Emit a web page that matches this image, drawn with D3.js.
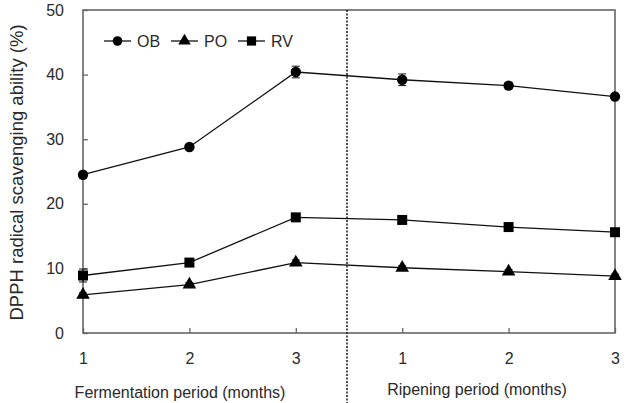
<!DOCTYPE html>
<html><head><meta charset="utf-8">
<script src="https://cdn.jsdelivr.net/npm/d3@7"></script>
<style>body{margin:0;background:#fff}svg{display:block}text{font-family:"Liberation Sans",Arial,sans-serif;fill:#2a2a2a}</style>
</head><body><svg id="c" width="627" height="403"></svg>
<script>
const categories = ["F1","F2","F3","R1","R2","R3"];
const tickLabels = ["1","2","3","1","2","3"];
const seriesNames = ["OB","PO","RV"];
const OB = [24.5, 28.8, 40.4, 39.2, 38.3, 36.6];
const PO = [5.9, 7.5, 10.9, 10.1, 9.5, 8.8];
const RV = [8.9, 10.9, 17.9, 17.5, 16.4, 15.6];
const OBerr = [0.5, 0.3, 0.9, 0.9, 0.5, 0.4];
const POerr = [0.3, 0.3, 0.4, 0.3, 0.3, 0.3];
const RVerr = [1.0, 0.3, 0.4, 0.3, 0.3, 0.3];
const yTicks = [0,10,20,30,40,50];

const svg = d3.select("#c");
const L=83, R=615, T=10, B=333;
const x = d3.scalePoint().domain(categories).range([L,R]);
const y = d3.scaleLinear().domain([0,50]).range([B,T]);
const axisCol="#666";

// frame
svg.append("rect").attr("x",L).attr("y",T).attr("width",R-L).attr("height",B-T)
  .attr("fill","none").attr("stroke",axisCol).attr("stroke-width",1.6);

// y axis
const ya = svg.append("g").attr("transform",`translate(${L},0)`)
  .call(d3.axisLeft(y).tickValues(yTicks).tickSize(-5).tickPadding(19));
ya.select(".domain").remove();
ya.selectAll("line").attr("stroke",axisCol).attr("stroke-width",1.3);
ya.selectAll("text").style("font-size","16px").attr("fill","#2a2a2a");

// x axis
const xa = svg.append("g").attr("transform",`translate(0,${B})`)
  .call(d3.axisBottom(x).tickSize(-5).tickPadding(20).tickFormat((d,i)=>tickLabels[i]));
xa.select(".domain").remove();
xa.selectAll("line").attr("stroke",axisCol).attr("stroke-width",1.3);
xa.selectAll("text").style("font-size","16px").attr("fill","#2a2a2a");

// divider
const xm = (x("F3")+x("R1"))/2 - 2;
svg.append("line").attr("x1",xm).attr("x2",xm).attr("y1",T).attr("y2",403)
  .attr("stroke","#222").attr("stroke-width",1.6).attr("stroke-dasharray","2,1.5");

// axis titles
svg.append("text").attr("transform",`translate(23,${(T+B)/2 + 1}) rotate(-90)`)
  .attr("text-anchor","middle").style("font-size","18.5px").text("DPPH radical scavenging ability (%)");
svg.append("text").attr("x",180).attr("y",398).attr("text-anchor","middle").style("font-size","16px").text("Fermentation period (months)");
svg.append("text").attr("x",477).attr("y",395).attr("text-anchor","middle").style("font-size","16px").text("Ripening period (months)");

const series = [
  {name:"OB", v:OB, e:OBerr, sym:d3.symbolCircle, size:85},
  {name:"PO", v:PO, e:POerr, sym:d3.symbolTriangle, size:80},
  {name:"RV", v:RV, e:RVerr, sym:d3.symbolSquare, size:100}
];
const line = d3.line().x((d,i)=>x(categories[i])).y(d=>y(d));
series.forEach(s=>{
  const g = svg.append("g");
  g.append("path").attr("d",line(s.v)).attr("fill","none").attr("stroke","#111").attr("stroke-width",1.3);
  s.v.forEach((v,i)=>{
    const cx=x(categories[i]);
    g.append("line").attr("x1",cx).attr("x2",cx).attr("y1",y(v-s.e[i])).attr("y2",y(v+s.e[i])).attr("stroke","#111");
    [v-s.e[i],v+s.e[i]].forEach(w=>g.append("line").attr("x1",cx-4).attr("x2",cx+4).attr("y1",y(w)).attr("y2",y(w)).attr("stroke","#111"));
    g.append("path").attr("d",d3.symbol(s.sym,s.size)()).attr("transform",`translate(${cx},${y(v)})`).attr("fill","#000");
  });
});

// legend
const legX=[104,171,238];
series.forEach((s,i)=>{
  const lx=legX[i], ly=41;
  svg.append("line").attr("x1",lx).attr("x2",lx+27).attr("y1",ly).attr("y2",ly).attr("stroke","#111").attr("stroke-width",1.3);
  svg.append("path").attr("d",d3.symbol(s.sym,s.size*0.85)()).attr("transform",`translate(${lx+13.5},${ly})`).attr("fill","#000");
  svg.append("text").attr("x",lx+33).attr("y",ly+6).style("font-size","16px").text(s.name);
});
</script></body></html>
